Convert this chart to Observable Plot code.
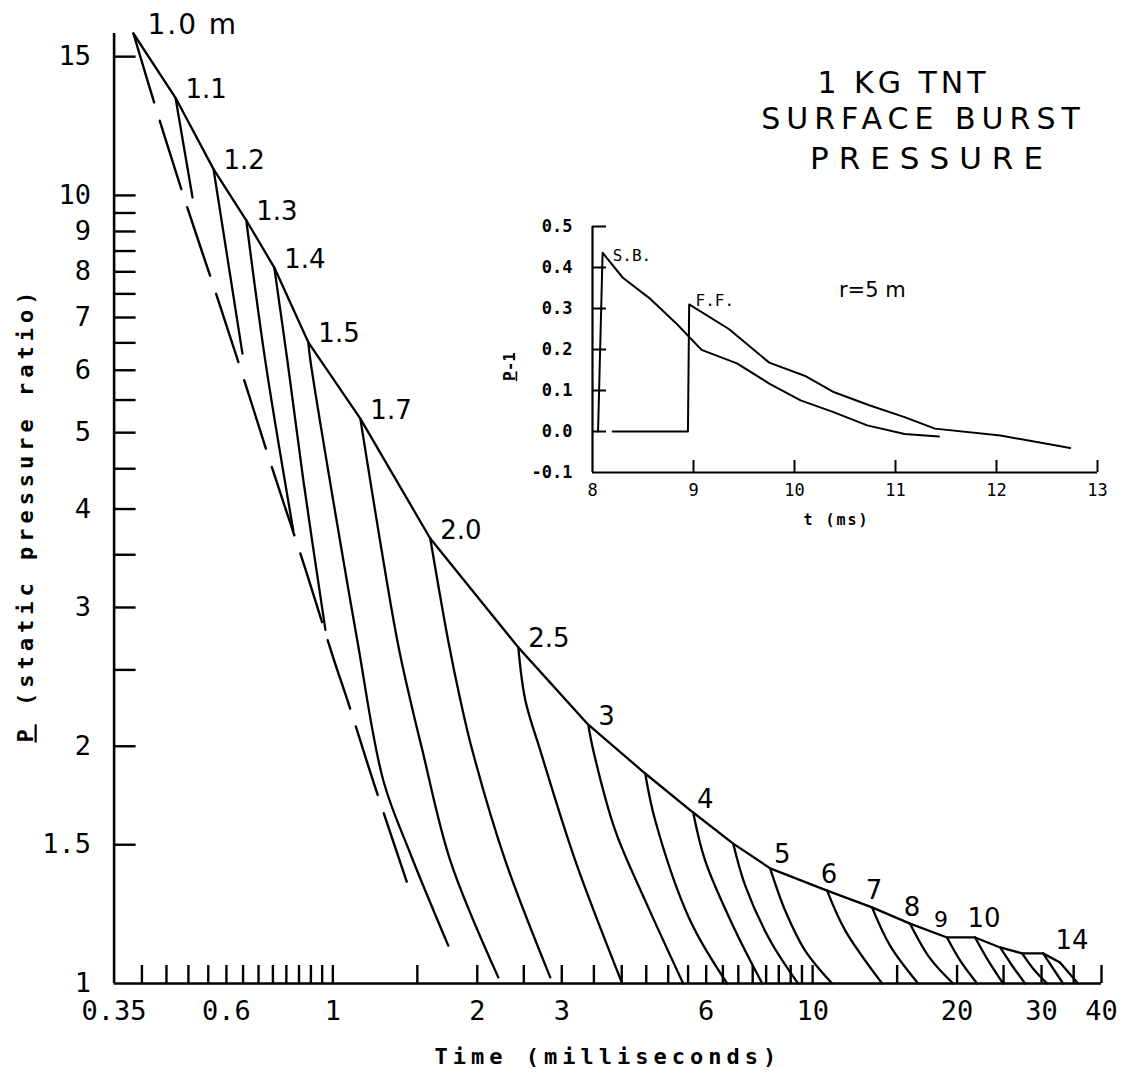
<!DOCTYPE html>
<html>
<head>
<meta charset="utf-8">
<script src="https://cdn.jsdelivr.net/npm/d3@7"></script>
<script src="https://cdn.jsdelivr.net/npm/@observablehq/plot@0.6"></script>
<style>
  html, body { margin: 0; padding: 0; background: #fff; }
  #wrap { position: relative; width: 1133px; height: 1074px; overflow: hidden; }
  #main svg, #inset svg { display: block; }
  #inset { position: absolute; left: 490px; top: 200px; }
</style>
</head>
<body>
<div id="wrap"><div id="main"></div><div id="inset"></div></div>
<script>
// ---------- main chart data ----------
const titleLines = ["1 KG TNT", "SURFACE BURST", "PRESSURE"];
const xAxisTitle = "Time (milliseconds)";
const yAxisTitle = "P (static pressure ratio)";   // P is underlined

const xTicks = [0.4,0.45,0.5,0.55,0.6,0.65,0.7,0.75,0.8,0.85,0.9,0.95,1,1.5,2,2.5,3,3.5,4,4.5,5,5.5,6,6.5,7,7.5,8,8.5,9,9.5,10,15,20,25,30,35,40];
const xLabels = [0.35,0.6,1,2,3,6,10,20,30,40];
const yTicks = [1.5,2,2.5,3,3.5,4,4.5,5,5.5,6,6.5,7,7.5,8,8.5,9,9.5,10,15];
const yLabels = [1,1.5,2,3,4,5,6,7,8,9,10,15];

// gauge distances (m) and peak of each record (envelope)
const distances = ["1.0 m","1.1","1.2","1.3","1.4","1.5","1.7","2.0","2.5","3","","4","","5","6","7","8","9","10","","","","14"];
const peakTime = [0.384,0.470,0.564,0.660,0.755,0.889,1.141,1.596,2.435,3.407,4.478,5.637,6.830,8.155,10.72,13.30,15.96,19.06,21.81,24.59,27.33,30.22,32.78];
const peakP    = [16.05,13.3,10.8,9.30,8.10,6.51,5.21,3.67,2.67,2.13,1.847,1.648,1.505,1.400,1.312,1.249,1.191,1.144,1.144,1.111,1.092,1.092,1.063];

// decay of each record after its peak
const decayTime = [
  [0.431,0.488,0.577,0.657,0.748,0.876,1.002,1.072,1.222,1.430],
  [0.510],
  [0.648],
  [0.723,0.827],
  [0.804,0.868,0.965],
  [0.898,1.125,1.274,1.450,1.740],
  [1.363,1.450,1.537,1.757,2.212],
  [1.740,1.844,1.953,2.288,2.839],
  [2.518,2.706,3.201,4.010],
  [3.490,3.877,4.478,5.373],
  [4.698,5.556,6.636],
  [5.97,6.894,7.851],
  [7.236,8.155,9.329],
  [8.764,9.647,10.98],
  [11.69,13.96],
  [14.50,16.59],
  [17.57,19.62],
  [20.29,22.02],
  [23.21,24.95],
  [26.04,27.72],
  [28.80,30.80],
  [33.26],
  [35.74]
];
const decayP = [
  [12.71,10.0,7.36,5.77,4.50,3.36,2.59,2.29,1.783,1.339],
  [9.94],
  [6.30],
  [6.17,3.76],
  [6.17,4.35,2.81],
  [6.17,2.72,1.81,1.462,1.117],
  [2.72,2.29,1.976,1.432,1.018],
  [2.72,2.29,1.976,1.432,1.018],
  [2.29,1.976,1.432,1.0],
  [1.976,1.564,1.274,1.0],
  [1.610,1.202,1.0],
  [1.432,1.168,1.0],
  [1.331,1.134,1.0],
  [1.238,1.101,1.0],
  [1.168,1.0],
  [1.117,1.0],
  [1.076,1.0],
  [1.070,1.0],
  [1.070,1.0],
  [1.054,1.0],
  [1.045,1.0],
  [1.0],
  [1.0]
];

// ---------- inset data (r = 5 m) ----------
const insetXTicks = [9,10,11,12,13];
const insetXLabels = [8,9,10,11,12,13];
const insetYTicks = [0,0.1,0.2,0.3,0.4,0.5];
const insetYLabels = [-0.1,0,0.1,0.2,0.3,0.4,0.5];
const sbTime = [8.055,8.10,8.30,8.56,8.84,9.08,9.43,9.75,10.06,10.38,10.72,11.09,11.43];
const sbP    = [0,0.436,0.375,0.326,0.261,0.199,0.166,0.117,0.076,0.048,0.015,-0.006,-0.012];
const ffTime = [8.2,8.945,8.957,9.35,9.75,10.10,10.38,10.74,11.09,11.39,12.04,12.73];
const ffP    = [0,0,0.31,0.25,0.168,0.136,0.097,0.064,0.035,0.007,-0.010,-0.040];
const insetNotes = [
  {t: 8.2, v: 0.417, text: "S.B."},
  {t: 9.02, v: 0.307, text: "F.F."}
];
const insetRadius = {t: 10.77, v: 0.327, text: "r=5 m"};
const insetXTitle = "t (ms)";
const insetYTitle = "P-1";   // P is underlined

// ---------- build tables ----------
const rows = [];
peakTime.forEach((t0, i) => {
  rows.push({trace: i, t: t0, p: peakP[i]});
  decayTime[i].forEach((t, j) => rows.push({trace: i, t, p: decayP[i][j]}));
});
const dashedRows = rows.filter(d => d.trace === 0);
const solidRows = rows.filter(d => d.trace > 0);
const envelope = peakTime.map((t, i) => ({i, t, p: peakP[i], label: distances[i]}));
const labelled = envelope.filter(d => d.label !== "");
const lbl = (names) => labelled.filter(d => names.includes(d.label));

const mono = "DejaVu Sans Mono";
const sans = "DejaVu Sans";

const main = Plot.plot({
  width: 1133, height: 1074,
  marginTop: 33, marginBottom: 91, marginLeft: 113.6, marginRight: 32,
  x: {type: "log", domain: [0.35, 40]},
  y: {type: "log", domain: [1, 16.05]},
  style: {background: "white", color: "black", fontFamily: mono},
  marks: [
    Plot.ruleX([0.35], {strokeWidth: 2.6}),
    Plot.ruleY([1], {strokeWidth: 2.6}),
    Plot.axisX({ticks: xTicks, tickSize: -18, fill: "none", strokeWidth: 2.4, label: null}),
    Plot.axisY({ticks: yTicks, tickSize: -22, fill: "none", strokeWidth: 2.4, label: null}),
    Plot.text(xLabels, {x: d => d, text: d => String(d), frameAnchor: "bottom", textAnchor: "middle", lineAnchor: "top", dy: 17, fontSize: 27, fontFamily: mono}),
    Plot.text(yLabels, {y: d => d, text: d => String(d), frameAnchor: "left", textAnchor: "end", lineAnchor: "middle", dx: -23, fontSize: 27, fontFamily: mono}),
    Plot.line(envelope, {x: "t", y: "p", strokeWidth: 2.3}),
    Plot.line(solidRows, {x: "t", y: "p", z: "trace", strokeWidth: 2.3, curve: "catmull-rom"}),
    Plot.line(dashedRows, {x: "t", y: "p", strokeWidth: 2.4, strokeDasharray: "72 19", curve: "catmull-rom"}),
    Plot.text(lbl(["1.0 m"]), {x: "t", y: "p", text: "label", textAnchor: "start", lineAnchor: "bottom", dx: 14, dy: 0, fontSize: 28, fontFamily: sans}),
    Plot.text(labelled.filter(d => d.i >= 1 && d.i <= 9), {x: "t", y: "p", text: "label", textAnchor: "start", lineAnchor: "bottom", dx: 10, dy: 0, fontSize: 26, fontFamily: sans}),
    Plot.text(lbl(["4", "5"]), {x: "t", y: "p", text: "label", textAnchor: "middle", lineAnchor: "bottom", dx: 12, dy: -5, fontSize: 26, fontFamily: sans}),
    Plot.text(lbl(["6", "7", "8"]), {x: "t", y: "p", text: "label", textAnchor: "middle", lineAnchor: "bottom", dx: 2, dy: -8, fontSize: 26, fontFamily: sans}),
    Plot.text(lbl(["9"]), {x: "t", y: "p", text: "label", textAnchor: "middle", lineAnchor: "bottom", dx: -6, dy: -10, fontSize: 22, fontFamily: sans}),
    Plot.text(lbl(["10"]), {x: "t", y: "p", text: "label", textAnchor: "middle", lineAnchor: "bottom", dx: 9, dy: -10, fontSize: 26, fontFamily: sans}),
    Plot.text(lbl(["14"]), {x: "t", y: "p", text: "label", textAnchor: "middle", lineAnchor: "bottom", dx: 12, dy: -14, fontSize: 26, fontFamily: sans}),
    Plot.text([titleLines[0]], {text: d => d, frameAnchor: "top-right", dx: -198, dy: 59, textAnchor: "middle", lineAnchor: "bottom", fontSize: 30, fontFamily: sans}),
    Plot.text([titleLines[1]], {text: d => d, frameAnchor: "top-right", dx: -178, dy: 95, textAnchor: "middle", lineAnchor: "bottom", fontSize: 30, fontFamily: sans}),
    Plot.text([titleLines[2]], {text: d => d, frameAnchor: "top-right", dx: -170, dy: 135, textAnchor: "middle", lineAnchor: "bottom", fontSize: 31, fontFamily: sans}),
    Plot.text([xAxisTitle], {text: d => d, frameAnchor: "bottom", dy: 73, textAnchor: "middle", lineAnchor: "middle", fontSize: 22, fontWeight: "bold", fontFamily: mono}),
    Plot.text([yAxisTitle], {text: d => d, frameAnchor: "left", dx: -88.6, dy: 6, rotate: -90, textAnchor: "middle", lineAnchor: "middle", fontSize: 22, fontWeight: "bold", fontFamily: mono})
  ]
});

const inset = Plot.plot({
  width: 640, height: 340,
  marginLeft: 102, marginRight: 33, marginTop: 26, marginBottom: 68,
  x: {domain: [8, 13]},
  y: {domain: [-0.1, 0.5]},
  style: {background: "transparent", color: "black", fontFamily: mono},
  marks: [
    Plot.ruleX([8], {strokeWidth: 2.2}),
    Plot.ruleY([-0.1], {strokeWidth: 2.2}),
    Plot.axisX({ticks: insetXTicks, tickSize: -12, fill: "none", strokeWidth: 2, label: null}),
    Plot.axisY({ticks: insetYTicks, tickSize: -14, fill: "none", strokeWidth: 2, label: null}),
    Plot.text(insetXLabels, {x: d => d, text: d => String(d), frameAnchor: "bottom", textAnchor: "middle", lineAnchor: "top", dy: 11, fontSize: 17, fontFamily: mono}),
    Plot.text(insetYLabels, {y: d => d, text: d => d.toFixed(1), frameAnchor: "left", textAnchor: "end", lineAnchor: "middle", dx: -20, fontSize: 17, fontWeight: "bold", fontFamily: mono}),
    Plot.line(sbTime.map((t, i) => ({t, v: sbP[i]})), {x: "t", y: "v", strokeWidth: 2}),
    Plot.line(ffTime.map((t, i) => ({t, v: ffP[i]})), {x: "t", y: "v", strokeWidth: 2}),
    Plot.text(insetNotes, {x: "t", y: "v", text: "text", textAnchor: "start", lineAnchor: "bottom", fontSize: 16, fontFamily: mono}),
    Plot.text([insetRadius], {x: "t", y: "v", text: "text", textAnchor: "middle", lineAnchor: "bottom", fontSize: 21, fontFamily: sans}),
    Plot.text([insetXTitle], {text: d => d, frameAnchor: "bottom", dx: -8.5, dy: 48, textAnchor: "middle", lineAnchor: "middle", fontSize: 15, fontWeight: "bold", fontFamily: mono}),
    Plot.text([insetYTitle], {text: d => d, frameAnchor: "left", dx: -83, dy: 17, rotate: -90, textAnchor: "middle", lineAnchor: "middle", fontSize: 16, fontWeight: "bold", fontFamily: mono})
  ]
});

// letter spacing for the hand-lettered titles
const spacing = new Map([
  [xAxisTitle, "5px"], [yAxisTitle, "5px"],
  [titleLines[0], "4px"], [titleLines[1], "6px"], [titleLines[2], "10px"],
  [insetXTitle, "2px"], ["1.0 m", "2px"]
]);
// underline the leading "P" of the pressure-ratio titles
const underlineFirst = new Set([yAxisTitle, insetYTitle]);
for (const svg of [main, inset]) {
  for (const t of svg.querySelectorAll("text")) {
    const s = t.textContent;
    if (spacing.has(s)) t.setAttribute("letter-spacing", spacing.get(s));
    if (underlineFirst.has(s)) {
      t.textContent = "";
      const a = document.createElementNS("http://www.w3.org/2000/svg", "tspan");
      a.textContent = s[0];
      a.setAttribute("text-decoration", "underline");
      a.style.textDecoration = "underline";
      const b = document.createElementNS("http://www.w3.org/2000/svg", "tspan");
      b.textContent = s.slice(1);
      t.appendChild(a);
      t.appendChild(b);
    }
  }
}

document.getElementById("main").appendChild(main);
document.getElementById("inset").appendChild(inset);
</script>
</body>
</html>
